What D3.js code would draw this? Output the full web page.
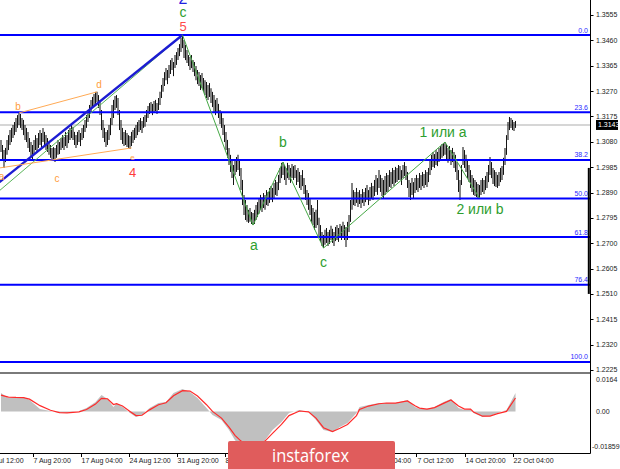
<!DOCTYPE html>
<html><head><meta charset="utf-8">
<script src="https://cdn.jsdelivr.net/npm/d3@7"></script>
<style>html,body{margin:0;padding:0;background:#fff;overflow:hidden}</style>
</head><body><svg id="c" width="620" height="469"></svg>
<script>
// ---------- DATA ----------
const highs = [
1.3087,1.3068,1.3049,1.3057,1.3087,1.3105,1.3124,1.3132,1.3143,1.3154,
1.3169,1.3180,1.3188,1.3184,1.3169,1.3162,1.3143,1.3132,1.3117,1.3094,
1.3079,1.3068,1.3087,1.3105,1.3094,1.3113,1.3124,1.3113,1.3132,1.3117,
1.3105,1.3094,1.3079,1.3068,1.3057,1.3060,1.3057,1.3068,1.3087,1.3079,
1.3094,1.3105,1.3098,1.3117,1.3105,1.3124,1.3132,1.3143,1.3136,1.3117,
1.3105,1.3117,1.3124,1.3113,1.3132,1.3143,1.3162,1.3180,1.3199,1.3218,
1.3237,1.3248,1.3259,1.3267,1.3267,1.3255,1.3237,1.3199,1.3162,1.3132,
1.3117,1.3124,1.3143,1.3169,1.3218,1.3237,1.3252,1.3255,1.3244,1.3199,
1.3162,1.3132,1.3117,1.3124,1.3113,1.3105,1.3102,1.3117,1.3124,1.3132,
1.3143,1.3154,1.3162,1.3169,1.3158,1.3173,1.3180,1.3199,1.3214,1.3225,
1.3229,1.3222,1.3233,1.3237,1.3225,1.3244,1.3267,1.3293,1.3319,1.3341,
1.3356,1.3349,1.3368,1.3386,1.3394,1.3379,1.3405,1.3416,1.3431,1.3446,
1.3469,1.3480,1.3461,1.3443,1.3424,1.3405,1.3398,1.3405,1.3386,1.3379,
1.3364,1.3349,1.3341,1.3330,1.3338,1.3319,1.3311,1.3304,1.3293,1.3300,
1.3281,1.3267,1.3255,1.3237,1.3244,1.3222,1.3199,1.3192,1.3169,1.3143,
1.3117,1.3087,1.3057,1.3031,1.3012,1.2993,1.3012,1.3023,1.3031,1.3012,
1.2982,1.2937,1.2881,1.2862,1.2843,1.2825,1.2832,1.2817,1.2813,1.2825,
1.2843,1.2854,1.2869,1.2881,1.2873,1.2888,1.2881,1.2899,1.2892,1.2907,
1.2914,1.2907,1.2926,1.2937,1.2929,1.2956,1.2982,1.3001,1.3004,1.2993,
1.2982,1.3001,1.2993,1.2982,1.2997,1.2989,1.2993,1.2974,1.2982,1.2967,
1.2956,1.2974,1.2944,1.2918,1.2899,1.2888,1.2869,1.2843,1.2832,1.2817,
1.2825,1.2862,1.2795,1.2768,1.2742,1.2731,1.2750,1.2757,1.2742,1.2750,
1.2765,1.2754,1.2742,1.2761,1.2768,1.2757,1.2772,1.2765,1.2780,1.2768,
1.2761,1.2780,1.2806,1.2862,1.2926,1.2899,1.2892,1.2907,1.2892,1.2899,
1.2884,1.2903,1.2892,1.2907,1.2918,1.2899,1.2911,1.2926,1.2914,1.2937,
1.2956,1.2944,1.2974,1.2956,1.2944,1.2937,1.2952,1.2963,1.2956,1.2974,
1.2967,1.2982,1.2974,1.2986,1.2982,1.2993,1.2989,1.2974,1.2993,1.3004,
1.2989,1.2967,1.2937,1.2926,1.2944,1.2929,1.2944,1.2956,1.2944,1.2963,
1.2956,1.2967,1.2959,1.2974,1.2967,1.2982,1.3012,1.3031,1.3042,1.3034,
1.3049,1.3042,1.3057,1.3064,1.3072,1.3075,1.3079,1.3068,1.3057,1.3064,
1.3049,1.3057,1.3042,1.3031,1.3004,1.2974,1.2937,1.2993,1.3060,1.3049,
1.3031,1.3012,1.2993,1.2974,1.2956,1.2944,1.2937,1.2929,1.2922,1.2918,
1.2937,1.2944,1.2937,1.2952,1.2967,1.2993,1.3023,1.3004,1.2982,1.2974,
1.2967,1.2956,1.2967,1.2982,1.2989,1.3020,1.3057,1.3105,1.3154,1.3173,
1.3169,1.3162,1.3154,1.3158];
const lows = [
1.3042,1.3012,1.2982,1.3004,1.3031,1.3049,1.3068,1.3079,1.3094,1.3105,
1.3117,1.3132,1.3143,1.3132,1.3124,1.3105,1.3087,1.3079,1.3057,1.3042,
1.3020,1.3012,1.3031,1.3049,1.3042,1.3057,1.3068,1.3060,1.3079,1.3064,
1.3049,1.3042,1.3031,1.3020,1.3012,1.3008,1.3004,1.3020,1.3031,1.3034,
1.3049,1.3057,1.3049,1.3064,1.3057,1.3075,1.3087,1.3094,1.3087,1.3068,
1.3057,1.3068,1.3079,1.3064,1.3087,1.3094,1.3117,1.3132,1.3154,1.3169,
1.3192,1.3207,1.3214,1.3222,1.3229,1.3207,1.3180,1.3124,1.3094,1.3079,
1.3060,1.3068,1.3087,1.3105,1.3143,1.3169,1.3199,1.3207,1.3180,1.3124,
1.3087,1.3072,1.3064,1.3068,1.3060,1.3057,1.3053,1.3064,1.3075,1.3087,
1.3094,1.3105,1.3117,1.3124,1.3113,1.3132,1.3136,1.3154,1.3169,1.3184,
1.3192,1.3180,1.3192,1.3195,1.3184,1.3199,1.3218,1.3244,1.3267,1.3289,
1.3311,1.3296,1.3319,1.3334,1.3349,1.3326,1.3356,1.3368,1.3386,1.3401,
1.3416,1.3431,1.3394,1.3386,1.3375,1.3364,1.3349,1.3356,1.3341,1.3326,
1.3311,1.3296,1.3289,1.3274,1.3281,1.3267,1.3255,1.3244,1.3237,1.3248,
1.3225,1.3210,1.3192,1.3180,1.3188,1.3169,1.3147,1.3132,1.3105,1.3079,
1.3049,1.3020,1.2993,1.2967,1.2944,1.2918,1.2956,1.2967,1.2974,1.2952,
1.2899,1.2843,1.2806,1.2787,1.2780,1.2776,1.2780,1.2772,1.2768,1.2772,
1.2787,1.2798,1.2810,1.2825,1.2817,1.2832,1.2825,1.2843,1.2839,1.2851,
1.2862,1.2854,1.2869,1.2881,1.2877,1.2899,1.2926,1.2944,1.2956,1.2937,
1.2918,1.2944,1.2937,1.2926,1.2944,1.2937,1.2944,1.2918,1.2929,1.2907,
1.2899,1.2914,1.2884,1.2862,1.2843,1.2825,1.2806,1.2780,1.2768,1.2750,
1.2757,1.2768,1.2720,1.2705,1.2690,1.2682,1.2694,1.2701,1.2690,1.2697,
1.2712,1.2701,1.2690,1.2708,1.2712,1.2705,1.2720,1.2712,1.2727,1.2712,
1.2686,1.2712,1.2742,1.2780,1.2825,1.2843,1.2839,1.2851,1.2836,1.2847,
1.2832,1.2851,1.2839,1.2854,1.2862,1.2843,1.2858,1.2869,1.2862,1.2877,
1.2892,1.2881,1.2907,1.2892,1.2877,1.2866,1.2881,1.2892,1.2892,1.2911,
1.2907,1.2922,1.2914,1.2926,1.2929,1.2937,1.2937,1.2918,1.2944,1.2952,
1.2937,1.2907,1.2873,1.2862,1.2881,1.2869,1.2888,1.2899,1.2892,1.2907,
1.2899,1.2914,1.2907,1.2918,1.2911,1.2929,1.2956,1.2974,1.2986,1.2982,
1.2993,1.2989,1.3004,1.3012,1.3020,1.3027,1.3031,1.3012,1.3001,1.3012,
1.2993,1.3004,1.2982,1.2967,1.2937,1.2892,1.2862,1.2918,1.2993,1.2982,
1.2967,1.2944,1.2929,1.2907,1.2892,1.2881,1.2877,1.2873,1.2869,1.2869,
1.2881,1.2892,1.2884,1.2899,1.2907,1.2929,1.2956,1.2944,1.2922,1.2914,
1.2911,1.2907,1.2914,1.2929,1.2937,1.2956,1.2993,1.3031,1.3087,1.3124,
1.3132,1.3124,1.3120,1.3132];
const lastPrice = 1.3143;
const priceTicks = [1.2225,1.2320,1.2415,1.2510,1.2605,1.2700,1.2795,1.2890,1.2985,1.3080,1.3175,1.3270,1.3365,1.3460,1.3555];
const timeTickBars = [-11,21,53,85,117,149,181,213,245,277,309,341];
const timeLabels = ["31 Jul 12:00","7 Aug 20:00","17 Aug 04:00","24 Aug 12:00","31 Aug 20:00","8 Sep 04:00","15 Sep 12:00","22 Sep 20:00","30 Sep 04:00","7 Oct 12:00","14 Oct 20:00","22 Oct 04:00"];
const fibHigh = 1.3480, fibLow = 1.2255;
const fibLevels = [0, 23.6, 38.2, 50, 61.8, 76.4, 100];
const fibLabels = ["0.0","23.6","38.2","50.0","61.8","76.4","100.0"];
const rangeBar = [1.2982, 1.2510];
// wave zigzag (green)
const waveBars = [121,168,188,215,296,319];
const wavePrices = [1.3480,1.2768,1.3004,1.2682,1.3079,1.2869];
const waveNames = ["", "a", "b", "c", "1 или a", "2 или b"];
// triangle (orange)
const triBars = [-1,12,36,64,87];
const triPrices = [1.2982,1.3188,1.3011,1.3267,1.3057];
const triNames = ["a","b","c","d","e"];
// trend lines into wave 5
const blueLineBars = [-1,121], blueLinePrices = [1.2929,1.3480];
const greenLineBars = [-1,121], greenLinePrices = [1.2897,1.3480];
// oscillator
const oscBars = [0,5,10,15,19,26,33,39,44,52,57,63,67,71,75,77,81,86,90,94,99,105,110,115,121,126,131,137,141,147,152,156,160,163,167,171,176,181,187,192,199,205,210,215,221,226,231,237,239,245,252,257,263,271,276,279,284,289,295,300,305,309,313,315,321,326,331,337,343];
const oscHist = [0.0096,0.0070,0.0075,0.0075,0.0060,0.0013,0.0002,-0.0008,-0.0008,0.0002,0.0018,0.0049,0.0086,0.0065,0.0023,0.0044,0.0023,-0.0008,-0.0029,-0.0019,0.0018,0.0044,0.0049,0.0096,0.0117,0.0101,0.0070,0.0018,-0.0019,-0.0045,-0.0097,-0.0150,-0.0180,-0.0186,-0.0184,-0.0178,-0.0150,-0.0097,-0.0055,-0.0008,0.0007,-0.0003,-0.0045,-0.0097,-0.0108,-0.0081,-0.0061,-0.0008,0.0023,0.0033,0.0044,0.0044,0.0044,0.0060,0.0023,0.0013,0.0013,0.0023,0.0049,0.0065,0.0018,0.0007,0.0013,-0.0008,-0.0029,-0.0024,-0.0008,0.0007,0.0096];
const oscSignal = [0.0085,0.0075,0.0073,0.0072,0.0064,0.0030,0.0006,-0.0006,-0.0008,-0.0002,0.0010,0.0038,0.0068,0.0066,0.0036,0.0040,0.0028,0.0000,-0.0022,-0.0020,0.0008,0.0035,0.0045,0.0082,0.0108,0.0106,0.0080,0.0035,0.0000,-0.0035,-0.0082,-0.0125,-0.0155,-0.0170,-0.0176,-0.0172,-0.0155,-0.0115,-0.0068,-0.0022,0.0002,-0.0002,-0.0035,-0.0085,-0.0105,-0.0088,-0.0068,-0.0022,0.0010,0.0028,0.0040,0.0044,0.0043,0.0055,0.0030,0.0017,0.0012,0.0020,0.0042,0.0060,0.0028,0.0012,0.0012,-0.0003,-0.0025,-0.0025,-0.0012,0.0000,0.0070];
const oscTicks = [0.0164, 0, -0.01859];
const oscTickLabels = ["0.0164","0.00","-0.01859"];

// ---------- DRAW ----------
const svg = d3.select("#c");
const FONT = "'Liberation Sans', Arial, sans-serif";
const axisX = 590;
const logo = {x0: 228, x1: 395};
const x = d3.scaleLinear().domain([0, highs.length - 1]).range([1, 515.5]);
const y = d3.scaleLinear().domain([1.2225, 1.3555]).range([370, 15]);
const yo = d3.scaleLinear().domain([-0.01859, 0.0164]).range([447, 380]);

const defs = svg.append("defs");
defs.append("clipPath").attr("id","cm").append("rect").attr("x",0).attr("y",0).attr("width",axisX).attr("height",372);
defs.append("clipPath").attr("id","co").append("rect").attr("x",0).attr("y",374).attr("width",axisX).attr("height",79);

const main = svg.append("g").attr("clip-path","url(#cm)");

// current price line
main.append("line").attr("x1",0).attr("x2",axisX).attr("y1",y(lastPrice)).attr("y2",y(lastPrice))
  .attr("stroke","#c8c8c8").attr("stroke-width",1.5);

// bars
main.append("g").selectAll("line").data(highs).join("line")
  .attr("x1",(d,i)=>x(i)).attr("x2",(d,i)=>x(i))
  .attr("y1",d=>y(d)).attr("y2",(d,i)=>y(lows[i]))
  .attr("stroke","#151515").attr("stroke-width",1.05);

// fibonacci levels
const fibPrice = l => fibHigh - (fibHigh - fibLow) * l / 100;
main.append("g").selectAll("line").data(fibLevels).join("line")
  .attr("x1",0).attr("x2",axisX).attr("y1",d=>y(fibPrice(d))).attr("y2",d=>y(fibPrice(d)))
  .attr("stroke","#0000ff").attr("stroke-width",2);
main.append("g").selectAll("text").data(fibLevels).join("text")
  .attr("x",588).attr("y",d=>y(fibPrice(d))-2.5).attr("text-anchor","end")
  .attr("font-family",FONT).attr("font-size",7).attr("fill","#2a2aff")
  .text((d,i)=>fibLabels[i]);

// range marker near axis
main.append("line").attr("x1",588.8).attr("x2",588.8).attr("y1",y(rangeBar[0])).attr("y2",y(rangeBar[1]))
  .attr("stroke","#000").attr("stroke-width",2);

// trend lines
const ln = d3.line().x(d=>x(d[0])).y(d=>y(d[1]));
main.append("path").attr("d", ln(greenLineBars.map((b,i)=>[b,greenLinePrices[i]])))
  .attr("fill","none").attr("stroke","#58b458").attr("stroke-width",1);
main.append("path").attr("d", ln(blueLineBars.map((b,i)=>[b,blueLinePrices[i]])))
  .attr("fill","none").attr("stroke","#1c1cd2").attr("stroke-width",2.4);

// triangle lines (a-c-e and b-d)
main.append("path").attr("d", ln([[triBars[0],triPrices[0]],[triBars[4],triPrices[4]]]))
  .attr("fill","none").attr("stroke","#ffaa55").attr("stroke-width",1);
main.append("path").attr("d", ln([[triBars[1],triPrices[1]],[triBars[3],triPrices[3]]]))
  .attr("fill","none").attr("stroke","#ffaa55").attr("stroke-width",1);

// wave zigzag
main.append("path").attr("d", ln(waveBars.map((b,i)=>[b,wavePrices[i]])))
  .attr("fill","none").attr("stroke","#45a845").attr("stroke-width",1);

// labels
function lab(g, bar, price, dx, dy, txt, color, size){
  g.append("text").attr("x", x(bar)+dx).attr("y", y(price)+dy).attr("text-anchor","middle")
   .attr("font-family",FONT).attr("font-size",size).attr("fill",color).text(txt);
}
const triOff = [[2,12],[-1,-3],[2,22],[2,-4],[1,12]];
triNames.forEach((t,i)=>lab(main, triBars[i], triPrices[i], triOff[i][0], triOff[i][1], t, "#ff9d3b", i===4?8:10));
lab(main, triBars[4], triPrices[4], 1, 29, "4", "#ff3b3b", 13);
lab(main, waveBars[0], wavePrices[0], 0.5, -4, "5", "#ff4a4a", 13);
lab(main, waveBars[0], wavePrices[0], 0.5, -18, "c", "#2e9e2e", 14);
lab(main, waveBars[0], wavePrices[0], 0.5, -31, "2", "#2020e0", 16);
const waveOff = [[0,0],[1,25],[0,-15],[0,19],[-2,-5],[0.5,16]];
waveNames.forEach((t,i)=>{ if(t) lab(main, waveBars[i], wavePrices[i], waveOff[i][0], waveOff[i][1], t, "#2e9e2e", 14); });

// separator
svg.append("rect").attr("x",0).attr("y",372).attr("width",axisX).attr("height",2).attr("fill","#7a7a7a");

// oscillator
const osc = svg.append("g").attr("clip-path","url(#co)");
const area = d3.area().x(d=>x(d[0])).y0(yo(0)).y1(d=>yo(d[1]));
osc.append("path").attr("d", area(oscBars.map((b,i)=>[b,oscHist[i]]))).attr("fill","#c0c0c0");
osc.append("path").attr("d", d3.line().x(d=>x(d[0])).y(d=>yo(d[1]))(oscBars.map((b,i)=>[b,oscSignal[i]])))
  .attr("fill","none").attr("stroke","#ff2a2a").attr("stroke-width",1.2);

// axes frame
svg.append("line").attr("x1",axisX+0.5).attr("x2",axisX+0.5).attr("y1",0).attr("y2",453.5).attr("stroke","#000");
svg.append("line").attr("x1",0).attr("x2",axisX+0.5).attr("y1",453.5).attr("y2",453.5).attr("stroke","#000");

// right price axis
const ra = svg.append("g");
ra.selectAll("line").data(priceTicks).join("line")
  .attr("x1",axisX).attr("x2",axisX+3.5).attr("y1",d=>Math.round(y(d))+0.5).attr("y2",d=>Math.round(y(d))+0.5).attr("stroke","#000");
ra.selectAll("text").data(priceTicks).join("text")
  .attr("x",596).attr("y",d=>y(d)).attr("dy","0.35em")
  .attr("font-family",FONT).attr("font-size",7).attr("fill","#222").text(d=>d.toFixed(4));
// current price box
svg.append("rect").attr("x",596).attr("y",y(lastPrice)-5).attr("width",22).attr("height",10).attr("fill","#000");
svg.append("text").attr("x",598).attr("y",y(lastPrice)).attr("dy","0.35em")
  .attr("font-family",FONT).attr("font-size",7).attr("fill","#fff").text(lastPrice.toFixed(4));

// oscillator axis labels
svg.append("g").selectAll("text").data(oscTicks).join("text")
  .attr("x",(d,i)=> i===2 ? 592 : 596).attr("y",d=>yo(d)).attr("dy","0.35em")
  .attr("font-family",FONT).attr("font-size",7).attr("fill","#222").text((d,i)=>oscTickLabels[i]);

// time axis (labels lying wholly under the watermark are not visible, so not drawn)
const ta = svg.append("g");
ta.selectAll("line").data(timeTickBars).join("line")
  .attr("x1",d=>Math.round(x(d))+0.5).attr("x2",d=>Math.round(x(d))+0.5).attr("y1",453).attr("y2",457).attr("stroke","#000");
const visibleTimes = timeTickBars.map((b,i)=>({b, t: timeLabels[i]}))
  .filter(o => !(x(o.b) > logo.x0 && x(o.b) + 42 < logo.x1));
ta.selectAll("text").data(visibleTimes).join("text")
  .attr("x",d=>x(d.b)+1).attr("y",463)
  .attr("font-family",FONT).attr("font-size",7).attr("fill","#222").text(d=>d.t);

// watermark
svg.append("rect").attr("x",logo.x0).attr("y",441).attr("width",logo.x1-logo.x0).attr("height",30).attr("rx",2).attr("fill","#e05c5c");
svg.append("text").attr("x",272).attr("y",462).attr("font-family","'Open Sans', sans-serif").attr("font-size",18)
  .attr("textLength",77).attr("lengthAdjust","spacingAndGlyphs").attr("fill","#fff").text("instaforex");
</script></body></html>
